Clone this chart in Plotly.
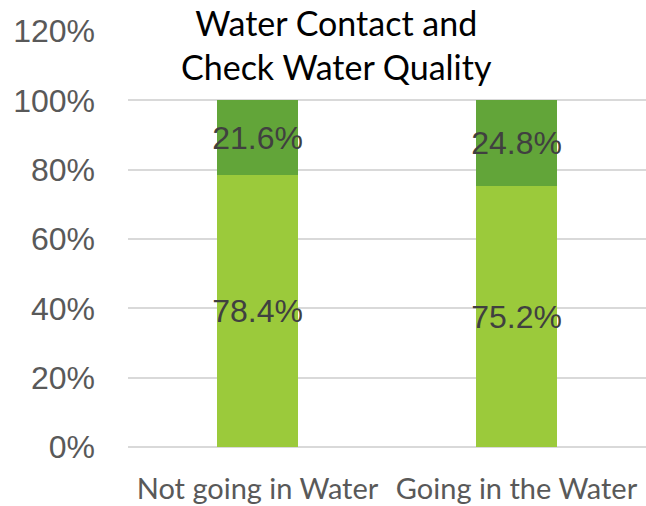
import plotly.graph_objects as go

categories = ["Not going in Water", "Going in the Water"]
no_check = [78.4, 75.2]
check = [21.6, 24.8]
y_ticks = [0, 20, 40, 60, 80, 100, 120]
y_tick_labels = ["0%", "20%", "40%", "60%", "80%", "100%", "120%"]
title_text = "Water Contact and<br>Check Water Quality"

PL = 128
PW = 646 - PL

fig = go.Figure()
for vals, col in ((no_check, "#9BCA3B"), (check, "#62A539")):
    fig.add_trace(go.Bar(
        x=categories, y=vals, marker=dict(color=col, line=dict(width=0)),
        text=[f"{v:.1f}%" for v in vals], textposition="inside",
        insidetextanchor="middle", textangle=0, constraintext="none",
        textfont=dict(family="Liberation Sans", size=32, color="#404040"),
        cliponaxis=False,
    ))

fig.update_layout(
    barmode="stack", bargap=0.69,
    width=646, height=506,
    margin=dict(l=PL, r=0, t=31, b=59),
    paper_bgcolor="white", plot_bgcolor="white",
    showlegend=False,
    xaxis=dict(showgrid=False, showline=False, ticks="",
               tickfont=dict(family="Lato", size=29, color="#595959"),
               ticklabelstandoff=22),
    yaxis=dict(range=[0, 120], tickvals=y_ticks, ticktext=y_tick_labels,
               showgrid=True, gridcolor="#D9D9D9", gridwidth=1.5,
               zeroline=True, zerolinecolor="#D9D9D9", zerolinewidth=1.5,
               tickfont=dict(family="Liberation Sans", size=32, color="#595959"),
               ticklabelstandoff=32),
    annotations=[dict(text=title_text, xref="paper", yref="paper",
                      x=(336 - PL) / PW, y=1.0, yshift=31, yanchor="top",
                      xanchor="center", showarrow=False, align="center",
                      font=dict(family="Lato", size=34, color="black"))],
)
fig.write_html(
    "out.html",
    config={"displayModeBar": False},
    post_script="document.body.style.margin='0';document.body.style.overflow='hidden';",
)
